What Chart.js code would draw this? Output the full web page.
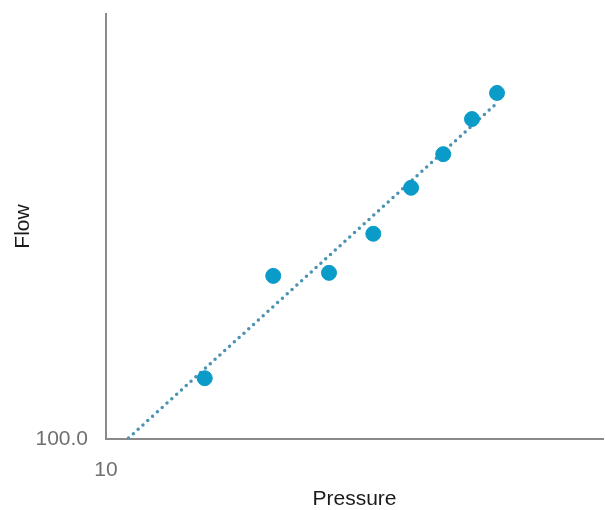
<!DOCTYPE html>
<html>
<head>
<meta charset="utf-8">
<script src="https://cdn.jsdelivr.net/npm/chart.js@4.4.1/dist/chart.umd.min.js"></script>
<style>
  html, body { margin: 0; padding: 0; background: #fff; }
  #wrap { width: 605px; height: 510px; }
</style>
</head>
<body>
<div id="wrap"><canvas id="flowChart"></canvas></div>
<script>
/* data */
const pressure = [15.8, 21.7, 28.1, 34.5, 41.1, 47.7, 54.5, 61.2];
const flow = [139, 242, 246, 304, 390, 468, 566, 652];
const trendPressure = [11.1, 60.6];
const trendFlow = [100.5, 611];
const xTicks = [10];
const yTicks = [100];

const points = pressure.map((p, i) => ({ x: p, y: flow[i] }));
const trend = trendPressure.map((p, i) => ({ x: p, y: trendFlow[i] }));

const axisColor = "#8a8a8a";
const tickFont = { family: "Liberation Sans, Arial, sans-serif", size: 21 };

new Chart(document.getElementById("flowChart"), {
  type: "scatter",
  data: {
    datasets: [
      {
        label: "Flow",
        data: points,
        backgroundColor: "#0a9bc9",
        borderColor: "#0a9bc9",
        pointRadius: 7.5,
        pointHoverRadius: 7.5,
        order: 1,
      },
      {
        label: "Trend",
        type: "line",
        data: trend,
        borderColor: "#4a92b2",
        borderWidth: 3.5,
        borderDash: [0, 6.5],
        borderCapStyle: "round",
        pointRadius: 0,
        fill: false,
        order: 2,
      },
    ],
  },
  options: {
    responsive: true,
    maintainAspectRatio: false,
    animation: false,
    layout: { autoPadding: false, padding: { top: 14, right: 2, left: 0, bottom: 0 } },
    plugins: { legend: { display: false }, tooltip: { enabled: false } },
    scales: {
      x: {
        type: "logarithmic",
        min: 10,
        max: 100,
        afterBuildTicks: (axis) => {
          axis.ticks = xTicks.map((v) => ({ value: v }));
        },
        afterFit: (axis) => {
          axis.height = 71;
          axis.paddingLeft = 0;
          axis.paddingRight = 0;
        },
        grid: { display: false, drawTicks: false },
        border: { color: axisColor, width: 2 },
        ticks: {
          color: "#707070",
          font: tickFont,
          padding: 19,
          autoSkip: false,
          maxRotation: 0,
          callback: (v) => String(v),
        },
        title: {
          display: true,
          text: "Pressure",
          color: "#1a1a1a",
          font: tickFont,
          padding: { top: 0, bottom: -2 },
        },
      },
      y: {
        type: "logarithmic",
        min: 100,
        max: 1000,
        afterBuildTicks: (axis) => {
          axis.ticks = yTicks.map((v) => ({ value: v }));
        },
        afterFit: (axis) => {
          axis.width = 106;
          axis.paddingTop = 0;
          axis.paddingBottom = 0;
        },
        grid: { display: false, drawTicks: false },
        border: { color: axisColor, width: 2 },
        ticks: {
          color: "#707070",
          font: tickFont,
          padding: 18,
          autoSkip: false,
          callback: (v) => Number(v).toFixed(1),
        },
        title: {
          display: true,
          text: "Flow",
          color: "#1a1a1a",
          font: tickFont,
          padding: { top: 11, bottom: 0 },
        },
      },
    },
  },
});
</script>
</body>
</html>
